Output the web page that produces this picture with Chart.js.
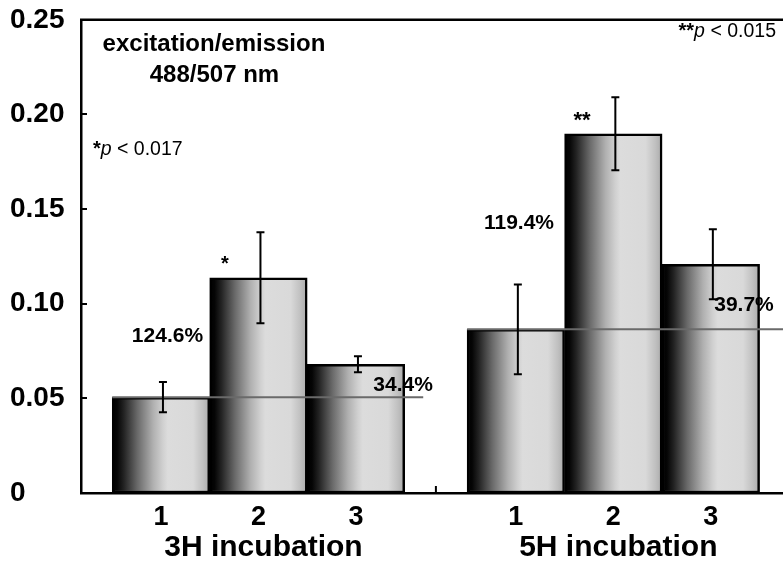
<!DOCTYPE html>
<html>
<head>
<meta charset="utf-8">
<script src="https://cdn.jsdelivr.net/npm/chart.js@4/dist/chart.umd.min.js"></script>
<style>
  html, body { margin: 0; padding: 0; background: #fff; }
  #wrap { width: 783px; height: 562px; position: relative; }
</style>
</head>
<body>
<div id="wrap"><canvas id="c"></canvas></div>
<script>
// ---- data ----
const groups = ['3H incubation', '5H incubation'];
const barLabels = ['1', '2', '3'];
const means3H = [0.0506, 0.1137, 0.0680];
const errors3H = [0.0080, 0.0240, 0.0042];
const means5H = [0.0865, 0.1898, 0.1208];
const errors5H = [0.0237, 0.0193, 0.0185];
const yTicks = [0, 0.05, 0.10, 0.15, 0.20, 0.25];
const yTickLabels = ['0', '0.05', '0.10', '0.15', '0.20', '0.25'];
const increase3H = ['124.6%', '34.4%'];
const increase5H = ['119.4%', '39.7%'];
const groupStars = ['*', '**'];
const pThresholds = ['0.017', '0.015'];
const wavelengthNote = ['excitation/emission', '488/507 nm'];

// ---- layout ----
const GROUP_GAP = 0.64;           // space between the two groups, in bar widths
const X_MIN = 0.18, X_MAX = 7.38;
const FONT = '"Liberation Sans", Arial, Helvetica, sans-serif';
const means = [means3H, means5H];
const errors = [errors3H, errors5H];
const increases = [increase3H, increase5H];

function barPos(g, i) { return 1 + g * (barLabels.length + GROUP_GAP) + i; }

const points = [];
const errs = [];
const positions = [];
groups.forEach((_, g) => barLabels.forEach((_, i) => {
  positions.push(barPos(g, i));
  points.push({ x: barPos(g, i), y: means[g][i] });
  errs.push(errors[g][i]);
}));

// text placement in data units (x in bar positions, y in axis units)
const textLayout = {
  percent: [[{ x: 1.067, y: 0.0828 }, { x: 3.483, y: 0.0570 }],
            [{ x: 4.672, y: 0.1424 }, { x: 6.980, y: 0.0992 }]],
  stars: [{ x: 1.657, y: 0.1176 }, { x: 5.318, y: 0.1933 }],
  note: [{ x: 1.544, y: 0.2368 }, { x: 1.549, y: 0.2205 }],
  pNote: [{ x: 0.303, y: 0.1814, align: 'left' }, { x: 7.308, y: 0.2437, align: 'right' }],
  refLineEnd: [3.69, X_MAX]
};

function barGradient(chart, pos) {
  const xs = chart.scales.x;
  if (!xs || !chart.chartArea) return '#cccccc';
  const l = xs.getPixelForValue(pos - 0.5);
  const r = xs.getPixelForValue(pos + 0.5);
  const g = chart.ctx.createLinearGradient(l, 0, r, 0);
  g.addColorStop(0.00, '#000000');
  g.addColorStop(0.05, '#050505');
  g.addColorStop(0.12, '#232323');
  g.addColorStop(0.26, '#6a6a6a');
  g.addColorStop(0.42, '#b0b0b0');
  g.addColorStop(0.52, '#d0d0d0');
  g.addColorStop(0.57, '#dcdcdc');
  g.addColorStop(0.83, '#d9d9d9');
  g.addColorStop(0.93, '#c0c0c0');
  g.addColorStop(1.00, '#aaaaaa');
  return g;
}

function drawRuns(ctx, runs, x, y, align) {
  let total = 0;
  runs.forEach(r => { ctx.font = r.font; r.w = ctx.measureText(r.text).width; total += r.w; });
  let cx = align === 'right' ? x - total : (align === 'center' ? x - total / 2 : x);
  runs.forEach(r => {
    ctx.font = r.font;
    ctx.textAlign = 'left';
    ctx.fillText(r.text, cx, y);
    cx += r.w;
  });
}

const decorations = {
  id: 'decorations',
  afterDatasetsDraw(chart) {
    const { ctx, chartArea: a, scales: { x, y } } = chart;
    ctx.save();

    // reference line at the level of each group's first bar
    ctx.strokeStyle = '#6a6a6a';
    ctx.lineWidth = 2;
    groups.forEach((_, g) => {
      const yy = y.getPixelForValue(means[g][0]);
      ctx.beginPath();
      ctx.moveTo(x.getPixelForValue(barPos(g, 0) - 0.5), yy);
      ctx.lineTo(x.getPixelForValue(textLayout.refLineEnd[g]), yy);
      ctx.stroke();
    });

    // error bars
    ctx.strokeStyle = '#000';
    ctx.lineWidth = 2;
    points.forEach((p, k) => {
      const cx = x.getPixelForValue(p.x) + 2;
      const top = y.getPixelForValue(p.y + errs[k]);
      const bot = y.getPixelForValue(p.y - errs[k]);
      ctx.beginPath();
      ctx.moveTo(cx, top); ctx.lineTo(cx, bot);
      ctx.moveTo(cx - 4, top); ctx.lineTo(cx + 4, top);
      ctx.moveTo(cx - 4, bot); ctx.lineTo(cx + 4, bot);
      ctx.stroke();
    });

    // inward tick marks on the value axis
    ctx.lineWidth = 2;
    yTicks.forEach(v => {
      const yy = Math.round(y.getPixelForValue(v));
      ctx.beginPath();
      ctx.moveTo(a.left, yy); ctx.lineTo(a.left + 6, yy);
      ctx.stroke();
    });

    // tick between the groups
    const gx = x.getPixelForValue((barPos(0, 2) + barPos(1, 0)) / 2);
    ctx.beginPath();
    ctx.moveTo(gx, a.bottom); ctx.lineTo(gx, a.bottom - 7);
    ctx.stroke();

    // frame line along the top
    ctx.lineWidth = 2.5;
    ctx.beginPath();
    ctx.moveTo(a.left - 1, a.top); ctx.lineTo(a.right, a.top);
    ctx.stroke();

    ctx.fillStyle = '#000';
    ctx.textBaseline = 'middle';

    // percentage increase labels
    ctx.font = 'bold 21px ' + FONT;
    ctx.textAlign = 'center';
    increases.forEach((arr, g) => arr.forEach((t, i) => {
      const p = textLayout.percent[g][i];
      ctx.fillText(t, x.getPixelForValue(p.x), y.getPixelForValue(p.y));
    }));

    // significance stars
    ctx.textBaseline = 'alphabetic';
    groupStars.forEach((s, g) => {
      const p = textLayout.stars[g];
      ctx.font = 'bold ' + (g === 0 ? 20 : 22) + 'px ' + FONT;
      ctx.fillText(s, x.getPixelForValue(p.x), y.getPixelForValue(p.y));
    });

    // wavelength note
    ctx.textBaseline = 'middle';
    ctx.font = 'bold 24px ' + FONT;
    wavelengthNote.forEach((t, i) => {
      const p = textLayout.note[i];
      ctx.fillText(t, x.getPixelForValue(p.x), y.getPixelForValue(p.y));
    });

    // p-value notes
    groupStars.forEach((s, g) => {
      const p = textLayout.pNote[g];
      drawRuns(ctx, [
        { text: s, font: 'bold 20px ' + FONT },
        { text: 'p', font: 'italic 19.5px ' + FONT },
        { text: ' < ' + pThresholds[g], font: '19.5px ' + FONT }
      ], x.getPixelForValue(p.x), y.getPixelForValue(p.y), p.align);
    });

    // group titles below the bar numbers
    ctx.textAlign = 'center';
    ctx.textBaseline = 'middle';
    ctx.font = 'bold 30px ' + FONT;
    groups.forEach((t, g) => {
      ctx.fillText(t, x.getPixelForValue(barPos(g, 1)) + 5, a.bottom + 55);
    });

    ctx.restore();
  }
};

new Chart(document.getElementById('c'), {
  type: 'bar',
  data: {
    datasets: [{
      data: points,
      backgroundColor: ctx => barGradient(ctx.chart, positions[ctx.dataIndex]),
      borderColor: '#000',
      borderWidth: 2.5,
      borderSkipped: false,
      barPercentage: 1,
      categoryPercentage: 1
    }]
  },
  options: {
    responsive: true,
    maintainAspectRatio: false,
    animation: false,
    events: [],
    layout: { padding: { left: 10, right: 0, top: 19, bottom: 30 } },
    plugins: { legend: { display: false }, tooltip: { enabled: false } },
    scales: {
      x: {
        type: 'linear',
        offset: false,
        min: X_MIN,
        max: X_MAX,
        grid: { display: false, offset: false },
        border: { display: true, color: '#000', width: 2.5 },
        afterBuildTicks: scale => { scale.ticks = positions.map(v => ({ value: v })); },
        afterFit: scale => { scale.height = 39; },
        ticks: {
          autoSkip: false,
          maxRotation: 0,
          padding: 0,
          color: '#000',
          font: { family: FONT, size: 27, weight: 'bold' },
          callback: (v, i) => barLabels[i % barLabels.length]
        }
      },
      y: {
        min: 0,
        max: 0.25,
        grid: { display: false },
        border: { display: true, color: '#000', width: 2.5 },
        afterBuildTicks: scale => { scale.ticks = yTicks.map(v => ({ value: v })); },
        afterFit: scale => { scale.width = 71; },
        ticks: {
          crossAlign: 'far',
          color: '#000',
          font: { family: FONT, size: 28, weight: 'bold' },
          callback: (v, i) => yTickLabels[i]
        }
      }
    }
  },
  plugins: [decorations]
});
</script>
</body>
</html>
